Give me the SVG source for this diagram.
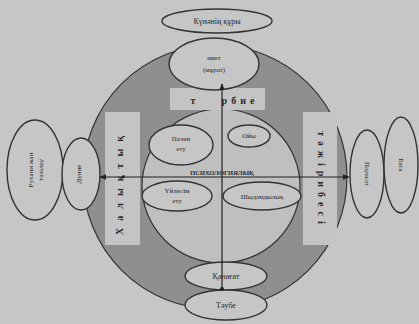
<svg xmlns="http://www.w3.org/2000/svg" width="419" height="324" viewBox="0 0 419 324">
<defs>
<style>
.e{fill:#c6c6c6;stroke:#333;stroke-width:1.4}
.t{font-family:"Liberation Serif","DejaVu Serif",serif;fill:#2a2a2a;text-anchor:middle}
.s{font-size:7px}
.m{font-size:8px}
.b{font-size:10px;font-weight:bold}
.band{fill:#c4c4c4;stroke:none}
.ln{stroke:#222;stroke-width:1.2;fill:none}
</style>
<marker id="ah" viewBox="0 0 10 10" refX="9" refY="5" markerWidth="6" markerHeight="6" orient="auto"><path d="M0,1 L10,5 L0,9 z" fill="#222"/></marker>
</defs>
<rect width="419" height="324" fill="#c6c6c6"/>
<g id="ring">
<circle cx="215" cy="177" r="132" fill="#8f8f8f" stroke="#333" stroke-width="1.2"/>
<ellipse cx="221" cy="186" rx="79" ry="77" fill="#bfbfbf" stroke="#333" stroke-width="1.2"/>
</g>
<g id="band-top"><rect class="band" x="170" y="88" width="95" height="22"/><text class="t b" x="193" y="104">т</text><text class="t b" x="240" y="104" style="letter-spacing:4px">рбие</text></g>
<g id="band-left"><rect class="band" x="105" y="112" width="35" height="133"/><text class="t b" transform="translate(123,182) rotate(-90)" style="letter-spacing:7px">Халықтық</text></g>
<g id="band-right"><rect class="band" x="303" y="112" width="34" height="133"/><text class="t b" transform="translate(318,180) rotate(90)" style="letter-spacing:5px">тәжірибесі</text></g>
<g id="n-kuna"><ellipse class="e" cx="217" cy="21" rx="55" ry="12"/><text class="t m" x="217" y="24">Күнәнің құры</text></g>
<g id="n-niet"><ellipse class="e" cx="214" cy="64" rx="45" ry="26"/><text class="t s" x="214" y="60">ниет</text><text class="t s" x="214" y="72">(мұрат)</text></g>
<g id="n-ruhani"><ellipse class="e" cx="35" cy="170" rx="28" ry="50"/><text class="t s" transform="translate(33,170) rotate(-90)">Рухани жан</text><text class="t s" transform="translate(43,170) rotate(-90)">тазалау</text></g>
<g id="n-dunie"><ellipse class="e" cx="81" cy="174" rx="19" ry="36"/><text class="t s" transform="translate(81,174) rotate(-90)">Дүние</text></g>
<g id="n-parasat"><ellipse class="e" cx="367" cy="174" rx="17" ry="44"/><text class="t s" transform="translate(365,174) rotate(90)">Парасат</text></g>
<g id="n-bata"><ellipse class="e" cx="401" cy="165" rx="17" ry="48"/><text class="t s" transform="translate(399,165) rotate(90)">Бата</text></g>
<g id="n-palen"><ellipse class="e" cx="181" cy="145" rx="32" ry="20"/><text class="t s" x="181" y="141">Пәлен</text><text class="t s" x="181" y="151">ету</text></g>
<g id="n-oi"><ellipse class="e" cx="249" cy="136" rx="21" ry="11"/><text class="t s" x="249" y="138">Ойы</text></g>
<g id="n-uilesim"><ellipse class="e" cx="177" cy="196" rx="35" ry="15"/><text class="t s" x="177" y="193">Үйлесім</text><text class="t s" x="177" y="203">ету</text></g>
<g id="n-shydam"><ellipse class="e" cx="262" cy="196" rx="39" ry="14"/><text class="t s" x="262" y="199">Шыдамдылық</text></g>
<g id="n-kanagat"><ellipse class="e" cx="226" cy="276" rx="41" ry="14"/><text class="t m" x="226" y="279">Қанағат</text></g>
<g id="n-taube"><ellipse class="e" cx="226" cy="305" rx="41" ry="15"/><text class="t m" x="226" y="308">Тәубе</text></g>
<g id="connectors">
<line class="ln" x1="222" y1="289" x2="222" y2="84" marker-end="url(#ah)"/>
<circle cx="222" cy="289" r="2" fill="#222"/>
<line class="ln" x1="222" y1="177" x2="100" y2="177" marker-end="url(#ah)"/>
<line class="ln" x1="222" y1="177" x2="349" y2="177" marker-end="url(#ah)"/>
<circle cx="123" cy="177" r="1.6" fill="#222"/>
</g>
<text class="t" x="222" y="175" style="font-size:6.5px;font-weight:bold">ПСИХОЛОГИЯЛЫҚ</text>
</svg>
